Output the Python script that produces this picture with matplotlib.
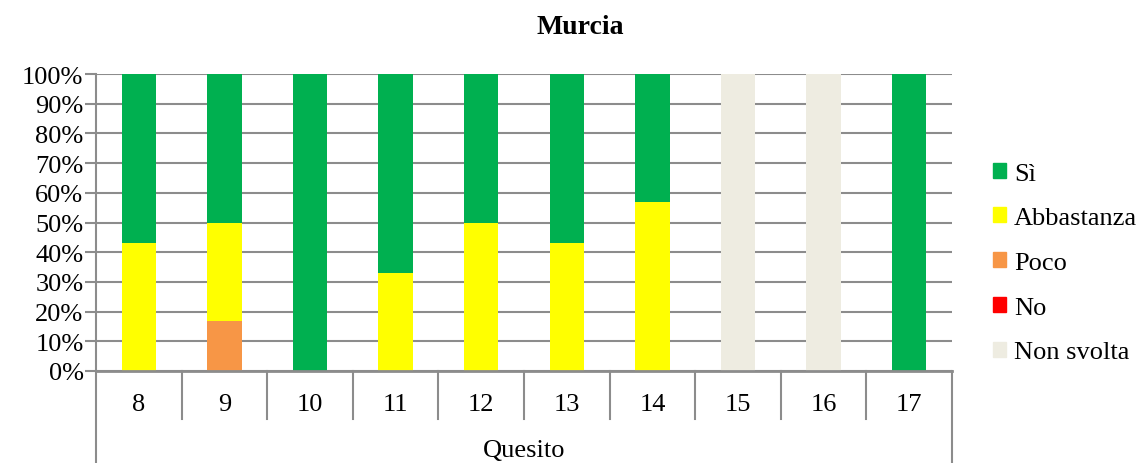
import numpy as np
import matplotlib.pyplot as plt
from matplotlib.patches import Patch

plt.rcParams['font.family'] = ['Liberation Serif', 'DejaVu Serif']

quesiti = ['8', '9', '10', '11', '12', '13', '14', '15', '16', '17']
si = [57, 50, 100, 67, 50, 57, 43, 0, 0, 100]
abbastanza = [43, 33, 0, 33, 50, 43, 57, 0, 0, 0]
poco = [0, 17, 0, 0, 0, 0, 0, 0, 0, 0]
no = [0, 0, 0, 0, 0, 0, 0, 0, 0, 0]
non_svolta = [0, 0, 0, 0, 0, 0, 0, 100, 100, 0]

serie = [('Non svolta', non_svolta, '#EEECE1'),
         ('No', no, '#FF0000'),
         ('Poco', poco, '#F79646'),
         ('Abbastanza', abbastanza, '#FFFF00'),
         ('Sì', si, '#00B050')]

fs = 19
fig = plt.figure(figsize=(11.42, 4.64), dpi=100)
ax = fig.add_axes([96/1142, 1-372/464, (952-96)/1142, (372-75)/464])

x = np.arange(len(quesiti))
base = np.zeros(len(quesiti))
for nome, val, col in serie:
    val = np.array(val, dtype=float)
    ax.bar(x, val, 0.4, bottom=base, color=col, zorder=3)
    base += val

grid = '#8C8C8C'
ax.set_xlim(-0.5, len(quesiti) - 0.5)
ax.set_ylim(0, 100)
ax.set_yticks(np.arange(0, 101, 10))
ax.set_yticklabels(['%d%%' % v for v in range(0, 101, 10)], fontsize=fs)
ax.yaxis.grid(True, color=grid, lw=1.5, zorder=0)
ax.tick_params(axis='y', length=8, width=1.5, color=grid, pad=1)
ax.set_xticks([])
for s in ['top', 'right', 'bottom']:
    ax.spines[s].set_visible(False)
ax.spines['left'].set_color(grid)
ax.spines['left'].set_linewidth(1.5)
ax.axhline(0, color=grid, lw=2, zorder=4, clip_on=False)

# tabella delle categorie sotto l'asse
trans = ax.get_xaxis_transform()
for i in range(len(quesiti) + 1):
    xs = i - 0.5
    if i == 0 or i == len(quesiti):
        ax.plot([xs, xs], [0, -0.31], color=grid, lw=1.5, clip_on=False, transform=trans)
    else:
        ax.plot([xs, xs], [0, -0.16], color=grid, lw=1.5, clip_on=False, transform=trans)
for i, q in enumerate(quesiti):
    ax.text(i, -0.11, q, transform=trans, ha='center', va='center', fontsize=fs)
ax.text(4.5, -0.265, 'Quesito', transform=trans, ha='center', va='center', fontsize=fs)

fig.text(580/1142, 1-28/464, 'Murcia', ha='center', va='center', fontsize=20, fontweight='bold')

handles = [Patch(color=c, label=n) for n, _, c in serie[::-1]]
fig.legend(handles=handles, loc='center left', bbox_to_anchor=(993/1142, 1-264/464),
           frameon=False, fontsize=fs, handlelength=0.5, handleheight=0.5,
           handletextpad=0.3, labelspacing=0.86, borderpad=0, borderaxespad=0)

fig.savefig('out.png', dpi=100)
